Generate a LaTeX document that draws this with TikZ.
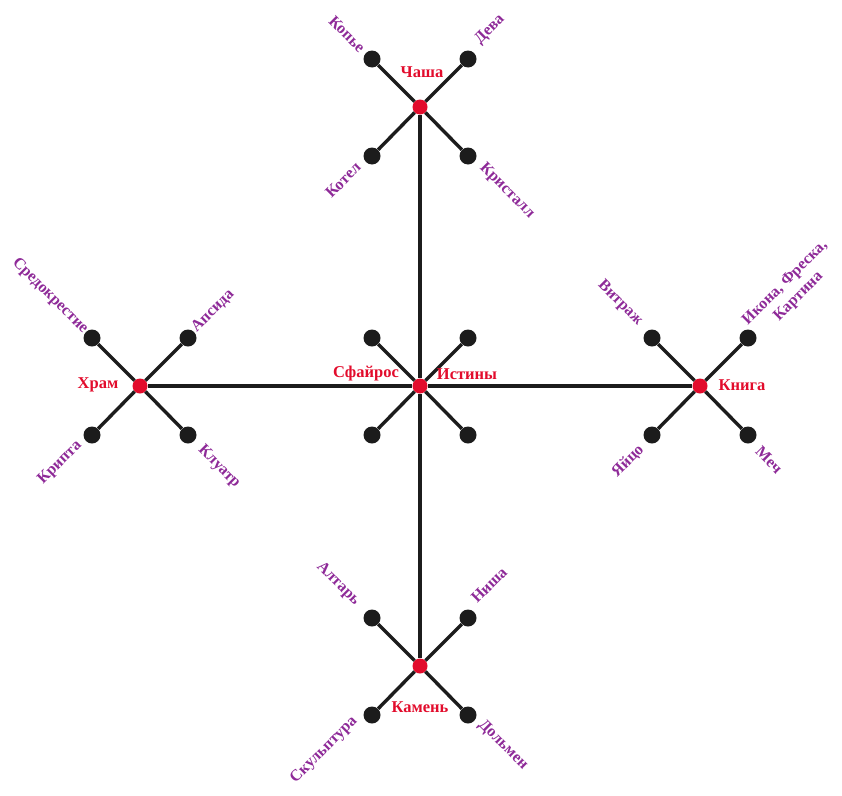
\documentclass[tikz,border=0pt]{standalone}
\usepackage{fontspec}
\setmainfont{Liberation Serif}
\usetikzlibrary{calc}
\definecolor{hubred}{RGB}{226,12,44}
\definecolor{labpurple}{RGB}{142,42,152}
\definecolor{linegray}{RGB}{28,28,28}
\begin{document}
\begin{tikzpicture}[x=1pt,y=-1pt,
  conn/.style={line width=3.4pt, draw=linegray},
  hub/.style={circle, fill=hubred, inner sep=0pt, minimum size=15pt},
  leaf/.style={circle, fill=linegray, inner sep=0pt, minimum size=17pt},
  hublab/.style={text=hubred, font=\bfseries\fontsize{16.5}{18}\selectfont, inner sep=1pt},
  leaflab/.style={text=labpurple, font=\bfseries\fontsize{16}{17}\selectfont, inner sep=1pt, align=center}]
\useasboundingbox (0,0) rectangle (842,795);
% hubs
\node[hub] (C) at (420,386) {};
\node[hub] (T) at (420,107) {};
\node[hub] (L) at (140,386) {};
\node[hub] (R) at (700,386) {};
\node[hub] (B) at (420,666) {};
% leaves and spokes
\foreach \h in {C,T,L,R,B}{
  \node[leaf] (\h nw) at ($(\h)+(-48,-48)$) {};
  \node[leaf] (\h ne) at ($(\h)+(48,-48)$) {};
  \node[leaf] (\h sw) at ($(\h)+(-48,49)$) {};
  \node[leaf] (\h se) at ($(\h)+(48,49)$) {};
  \draw[conn] (\h) -- (\h nw);
  \draw[conn] (\h) -- (\h ne);
  \draw[conn] (\h) -- (\h sw);
  \draw[conn] (\h) -- (\h se);
}
% main axes
\draw[conn] (T) -- (C);
\draw[conn] (B) -- (C);
\draw[conn] (L) -- (C);
\draw[conn] (R) -- (C);
% hub labels
\node[hublab] (tl) at (422,72) {Чаша};
\node[hublab] (ll) at (98,385) {Храм};
\node[hublab] (cl1) at (366,374) {Сфайрос};
\node[hublab] (cl2) at (467,374) {Истины};
\node[hublab] (rl) at (742,385) {Книга};
\node[hublab] (bl) at (420,707) {Камень};
% leaf labels
\node[leaflab, rotate=-45] (t1) at (347,34) {Копье};
\node[leaflab, rotate=45] (t2) at (490,30) {Дева};
\node[leaflab, rotate=45] (t3) at (343,180) {Котел};
\node[leaflab, rotate=-45] (t4) at (507,191) {Кристалл};
\node[leaflab, rotate=-45] (l1) at (50,296) {Средокрестие};
\node[leaflab, rotate=45] (l2) at (213,311) {Апсида};
\node[leaflab, rotate=45] (l3) at (60,463) {Крипта};
\node[leaflab, rotate=-45] (l4) at (219,467) {Клуатр};
\node[leaflab, rotate=-45] (r1) at (620,303) {Витраж};
\node[leaflab, rotate=45, font=\bfseries\fontsize{16}{19}\selectfont] (r2) at (792,290) {Икона, Фреска,\\Картина};
\node[leaflab, rotate=45] (r3) at (628,461) {Яйцо};
\node[leaflab, rotate=-45] (r4) at (769,460) {Меч};
\node[leaflab, rotate=-45] (b1) at (338,584) {Алтарь};
\node[leaflab, rotate=45] (b2) at (489,585) {Ниша};
\node[leaflab, rotate=45] (b3) at (324,750) {Скульптура};
\node[leaflab, rotate=-45] (b4) at (503,745) {Дольмен};
\end{tikzpicture}
\end{document}
